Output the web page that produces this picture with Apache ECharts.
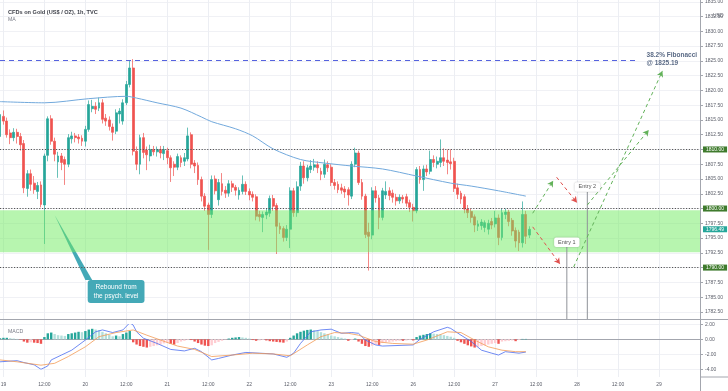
<!DOCTYPE html>
<html><head><meta charset="utf-8">
<script src="https://cdn.jsdelivr.net/npm/echarts@6/dist/echarts.min.js"></script>
<style>html,body{margin:0;padding:0;background:#fff}#c{width:728px;height:391px}</style>
</head><body><div id="c"></div>
<script>
// ---------- data ----------
const dayLabels = ['19','20','21','22','23','26','27','28','29'];
const slotCount = 206;           // hourly slots on the time axis
const opens = [
1812.2,1815.6,1814.8,1812.8,1812.0,1812.9,1812.2,1811.0,1803.4,1805.9,
1804.3,1802.9,1804.0,1800.6,1809.0,1815.2,1811.4,1807.9,1808.9,1808.3,
1807.5,1811.8,1812.3,1812.1,1811.9,1811.4,1813.4,1816.9,1817.3,1817.0,
1817.9,1815.3,1815.0,1813.8,1813.1,1816.0,1814.8,1817.9,1821.0,1823.8,
1809.7,1807.5,1812.0,1809.9,1808.9,1810.0,1809.6,1810.0,1809.3,1809.8,
1808.6,1807.5,1807.0,1808.6,1808.0,1808.4,1812.5,1807.7,1807.3,1804.9,
1802.1,1800.6,1799.0,1805.0,1801.5,1804.2,1803.1,1802.6,1804.2,1803.6,
1802.3,1802.9,1804.1,1802.9,1802.4,1802.0,1799.0,1798.5,1798.9,1799.2,
1801.7,1800.5,1797.0,1796.6,1795.1,1796.5,1803.0,1799.3,1803.8,1807.2,
1805.2,1806.6,1807.0,1807.4,1806.3,1805.8,1807.4,1807.0,1804.4,1804.1,
1803.5,1803.3,1803.2,1802.1,1807.5,1809.4,1804.4,1802.1,1796.0,1795.5,
1803.0,1801.8,1798.5,1802.3,1803.0,1802.6,1801.9,1801.3,1801.9,1802.0,
1801.0,1800.2,1799.6,1806.6,1804.9,1806.7,1806.3,1808.3,1807.5,1807.8,
1808.6,1808.2,1807.9,1808.0,1803.5,1802.6,1802.0,1799.9,1799.5,1798.6,
1797.0,1797.1,1796.8,1796.5,1797.8,1797.4,1798.4,1795.1,1799.0,1799.4,
1798.0,1796.3,1796.0,1794.2,1799.0,1795.5];
const closes = [
1815.9,1814.8,1812.5,1812.0,1812.9,1812.2,1810.8,1803.5,1805.9,1804.1,
1803.2,1803.9,1800.7,1808.9,1815.2,1811.4,1809.2,1808.9,1807.8,1807.5,
1812.0,1812.3,1812.0,1811.8,1811.4,1813.4,1817.6,1817.3,1816.8,1817.9,
1815.1,1814.8,1813.9,1812.9,1816.2,1816.5,1817.9,1821.0,1823.8,1809.7,
1807.5,1812.0,1809.5,1809.1,1810.0,1809.6,1810.0,1809.4,1810.0,1808.6,
1806.9,1807.0,1808.8,1807.8,1808.6,1812.3,1807.5,1807.2,1804.9,1802.1,
1800.4,1799.0,1804.9,1803.0,1804.4,1802.9,1802.6,1804.2,1803.6,1803.1,
1803.1,1804.1,1802.9,1802.3,1801.9,1798.7,1798.6,1799.0,1799.4,1801.7,
1800.4,1797.0,1796.5,1795.1,1796.5,1803.0,1799.3,1803.7,1807.2,1805.2,
1806.9,1807.2,1807.4,1806.9,1805.8,1807.5,1806.9,1804.4,1803.9,1803.2,
1803.1,1802.8,1802.3,1807.5,1809.4,1804.4,1802.1,1795.6,1795.3,1803.0,
1801.8,1798.5,1803.0,1802.9,1802.2,1801.9,1801.3,1801.9,1801.6,1800.9,
1800.2,1799.6,1806.6,1804.9,1806.7,1806.2,1808.3,1807.8,1808.0,1808.6,
1808.0,1807.8,1807.6,1803.4,1802.4,1801.6,1799.9,1799.3,1798.5,1797.2,
1797.4,1797.7,1797.6,1797.5,1797.2,1798.4,1795.1,1799.3,1799.4,1797.8,
1796.2,1794.5,1794.2,1799.0,1795.3,1796.49];
const lows = [
1811.5,1814.2,1812.0,1810.9,1811.4,1811.0,1809.8,1802.6,1802.0,1803.0,
1802.5,1801.6,1800.2,1794.0,1808.0,1810.8,1808.0,1805.2,1806.5,1804.0,
1807.0,1811.0,1811.2,1811.0,1810.6,1810.5,1813.0,1816.3,1816.0,1816.5,
1814.4,1814.0,1813.2,1811.5,1812.6,1814.4,1814.2,1817.5,1820.5,1809.0,
1806.5,1805.8,1808.5,1806.5,1808.0,1809.0,1808.8,1808.5,1808.2,1807.5,
1804.5,1805.5,1806.5,1807.0,1807.2,1808.0,1806.8,1806.0,1804.0,1801.2,
1799.6,1793.0,1798.4,1802.4,1800.5,1802.2,1801.8,1802.0,1802.8,1802.2,
1801.5,1802.4,1802.3,1801.4,1801.2,1798.0,1797.8,1796.0,1798.2,1798.6,
1799.6,1792.3,1795.7,1794.4,1794.5,1793.3,1798.6,1798.6,1803.0,1804.2,
1804.6,1806.0,1806.4,1806.0,1804.8,1805.2,1806.2,1803.8,1803.2,1802.6,
1802.5,1801.8,1800.5,1801.6,1807.0,1804.0,1801.5,1795.0,1789.5,1794.8,
1801.0,1796.5,1798.0,1801.6,1801.4,1801.0,1800.5,1800.8,1800.9,1800.3,
1799.4,1797.8,1799.2,1804.2,1803.0,1805.5,1805.8,1807.0,1806.8,1807.0,
1807.2,1805.8,1806.6,1802.8,1801.6,1800.8,1799.2,1798.4,1797.6,1796.0,
1796.2,1796.4,1796.0,1795.6,1796.5,1796.8,1793.8,1794.6,1798.2,1797.0,
1795.4,1793.4,1792.8,1793.4,1794.0,1795.0];
const highs = [
1816.8,1816.6,1815.4,1813.4,1813.6,1813.5,1812.8,1811.6,1806.5,1806.6,
1805.5,1804.5,1804.6,1809.3,1815.6,1815.8,1812.0,1809.6,1809.4,1808.8,
1812.6,1813.0,1812.8,1812.6,1812.4,1814.0,1818.3,1818.4,1818.0,1818.8,
1818.5,1816.0,1815.6,1814.4,1816.8,1817.0,1818.5,1821.6,1825.0,1825.3,
1810.5,1812.5,1812.8,1810.5,1810.8,1810.6,1810.5,1810.6,1810.6,1810.3,
1809.0,1808.0,1809.3,1809.0,1809.4,1813.7,1812.9,1808.2,1807.8,1805.4,
1802.6,1801.0,1805.6,1805.6,1805.0,1806.0,1803.8,1804.8,1804.7,1804.0,
1803.6,1805.6,1804.6,1803.4,1802.9,1802.4,1799.6,1799.5,1800.0,1802.2,
1802.3,1800.9,1797.6,1797.0,1797.2,1803.6,1803.5,1804.6,1807.9,1808.0,
1807.4,1808.2,1808.4,1808.0,1806.9,1808.3,1808.0,1807.5,1805.0,1804.6,
1804.2,1803.8,1803.6,1808.0,1810.3,1809.8,1805.0,1802.5,1797.6,1803.6,
1803.8,1802.3,1803.5,1804.6,1803.6,1803.2,1802.5,1802.4,1802.3,1802.5,
1801.5,1800.8,1807.0,1807.2,1807.3,1807.4,1809.8,1809.0,1808.8,1811.7,
1810.2,1810.0,1810.0,1808.6,1804.2,1803.0,1802.4,1800.6,1800.0,1799.0,
1798.0,1798.2,1798.0,1798.1,1798.4,1799.6,1799.0,1800.0,1800.0,1799.8,
1798.4,1796.8,1796.4,1801.2,1799.6,1797.0];
// moving average (slot, price)
const maPoints = [[0,1818.1],[13,1817.9],[26,1818.6],[37,1819.0],[40,1818.7],[46,1817.9],[53,1817.0],
[59,1815.5],[62,1814.7],[69,1813.5],[74,1812.3],[80,1810.1],[88,1808.3],[95,1807.7],[103,1807.2],
[112,1806.7],[122,1805.5],[132,1804.3],[138,1803.8],[146,1803.0],[154,1802.1]];
// MACD pane
const macdLine = [[0,-3.0],[5,-2.85],[7,-3.1],[10,-3.4],[12,-4.0],[14,-3.55],[15,-2.75],[18,-2.1],[21,-1.45],
[25,-0.1],[28,1.0],[30,1.25],[33,0.9],[36,1.25],[38,2.2],[39,1.9],[40,1.0],[42,0.15],[46,-0.55],[50,-1.35],
[54,-1.55],[57,-1.2],[59,-1.65],[62,-2.75],[64,-2.55],[68,-2.1],[72,-1.75],[76,-1.85],[80,-1.95],[84,-2.4],
[86,-1.85],[88,-0.55],[91,1.0],[94,1.25],[97,1.35],[100,0.8],[103,0.9],[105,0.8],[107,-0.1],[110,-0.75],
[112,-0.9],[121,-0.75],[123,0.0],[127,1.0],[131,1.6],[132,1.45],[135,0.55],[138,-0.3],[141,-1.45],[144,-1.85],
[146,-2.1],[148,-1.65],[152,-1.85],[154,-1.7]];
const signalLine = [[0,-2.75],[5,-3.0],[12,-3.45],[16,-3.2],[20,-2.3],[25,-1.0],[29,0.35],[34,0.9],[39,1.25],
[43,0.55],[47,-0.1],[52,-0.9],[57,-1.35],[62,-2.3],[68,-2.1],[74,-1.85],[80,-1.95],[85,-2.2],[90,-0.75],
[94,0.35],[98,0.9],[102,0.8],[105,0.55],[110,-0.3],[115,-0.55],[121,-0.65],[125,-0.1],[131,1.0],[135,0.9],
[139,-0.1],[143,-1.0],[147,-1.45],[151,-1.65],[154,-1.65]];
const macdHist = [
0.15,0.2,0.2,0.15,0.1,0.05,-0.05,
-0.3,-0.45,-0.4,-0.45,-0.5,-0.6,
0.3,0.8,0.9,0.7,0.55,0.5,0.45,
0.7,0.8,0.9,1.0,0.95,1.1,1.3,1.4,1.3,1.2,
1.0,0.8,0.6,0.4,0.5,0.4,0.7,0.9,1.1,
-0.4,-0.7,-0.9,-1.0,-1.1,
-1.0,-0.9,-0.8,-0.7,-0.55,-0.45,
-0.6,-0.7,-0.5,-0.3,-0.2,-0.1,-0.1,
-0.3,-0.5,-0.7,-0.85,-0.9,
-0.8,-0.5,-0.35,-0.2,-0.05,0.1,0.2,0.25,0.3,0.25,0.2,0.1,
-0.1,-0.2,-0.15,-0.1,-0.15,-0.25,-0.3,-0.35,-0.4,-0.45,-0.3,
0.2,0.5,0.8,1.0,1.15,1.25,1.3,1.2,1.1,0.95,0.8,0.65,0.5,0.4,0.3,0.2,0.1,
-0.2,-0.1,0.1,-0.3,-0.6,-0.9,-1.0,-0.85,-0.7,-0.75,-0.5,-0.4,-0.35,-0.3,-0.25,-0.2,-0.2,-0.15,-0.1,-0.15,
0.3,0.5,0.6,0.7,0.8,0.75,0.7,0.65,0.55,0.45,0.35,0.2,
-0.2,-0.4,-0.6,-0.8,-0.95,-1.1,-1.0,-0.9,-0.8,-0.7,-0.6,-0.5,-0.6,-0.3,-0.25,-0.2,-0.15,-0.25,-0.1,
0.05,0.05];
// levels & annotations
const levelPrices = [1810, 1800, 1790];
const lastPrice = 1796.49;
const fibPrice = 1825.19;
const fibSpan = [0, 187];
const fibText = ['38.2% Fibonacci', '@ 1825.19'];
const zoneRange = [1792.6, 1799.7];
const redArrows = [[[156,1796.9],[164,1790.6]], [[163,1805.3],[169,1801.0]]];
const greenArrows = [[[156,1799.2],[162,1804.7]], [[168,1790.1],[194,1823.3]], [[172,1800.6],[190,1813.3]]];
const entryLines = [[166,1793.5],[172,1802.8]];
const entryLabels = [['Entry 1',166,1794.3],['Entry 2',172,1803.65]];
const reboundLabel = ['Rebound from\nthe psych. level', 34, 1785.96];
const reboundArrow = [[16,1798.9],[25,1787.9],[27,1787.9]];

// ---------- build ----------
const cats = [];
for (let s = 0; s < slotCount; s++) {
  const h = s - 1;
  let lab = '';
  if (h >= 0) {
    const d = Math.floor(h / 24), hr = h % 24;
    lab = hr === 0 ? dayLabels[d] : (hr === 12 ? '12:00' : '');
  }
  cats.push(lab + '|' + s);
}
const tickShown = (idx) => (idx - 1) % 12 === 0 && idx >= 1 && idx < 205;
const candleData = opens.map((o, i) => [o, closes[i], lows[i], highs[i]]);
const histData = macdHist.map((v, i) => {
  const prev = i > 0 ? macdHist[i - 1] : 0;
  const c = v >= 0 ? (v >= prev ? '#26a69a' : '#b2dfdb') : (v <= prev ? '#ef5350' : '#ffcdd2');
  return {value: v, itemStyle: {color: c}};
});
const axisLabelColor = '#5d606b';
const FONT = 'Liberation Sans';

const levelLines = levelPrices.map(p => ({
  yAxis: p,
  lineStyle: {color: '#555', type: [1.2, 1.6], width: 1},
  label: {show: true, position: 'end', distance: 3, formatter: p.toFixed(2), color: '#fff',
    backgroundColor: '#3f7b2d', padding: [1, 3, 0, 3], fontSize: 5, fontFamily: FONT}
}));
const lastLine = {
  yAxis: lastPrice,
  lineStyle: {color: 'rgba(0,0,0,0)', width: 1},
  label: {show: true, position: 'end', distance: 3, formatter: lastPrice.toFixed(2), color: '#fff',
    backgroundColor: '#26a69a', padding: [1, 3, 0, 3], fontSize: 5, fontFamily: FONT}
};
const annoLines = [];
redArrows.forEach(a => annoLines.push([
  {coord: a[0], symbol: 'none', lineStyle: {color: '#e0514e', type: [3.5, 3], width: 1}, label: {show: false}},
  {coord: a[1], symbol: 'arrow', symbolSize: [5, 6]}]));
greenArrows.forEach(a => annoLines.push([
  {coord: a[0], symbol: 'none', lineStyle: {color: '#63b25a', type: [3.5, 3], width: 1}, label: {show: false}},
  {coord: a[1], symbol: 'arrow', symbolSize: [5, 6]}]));

const chart = echarts.init(document.getElementById('c'), null, {renderer: 'canvas'});
chart.setOption({
  animation: false,
  backgroundColor: '#ffffff',
  textStyle: {fontFamily: FONT},
  title: [
    {text: 'CFDs on Gold (US$ / OZ), 1h, TVC', left: 3, top: 4, textStyle: {fontSize: 5.6, fontWeight: 'bold', color: '#3c3f48', fontFamily: FONT}},
    {text: 'MA', left: 3, top: 12, textStyle: {fontSize: 5.2, fontWeight: 'normal', color: '#787b86', fontFamily: FONT}},
    {text: 'MACD', left: 3, top: 324, textStyle: {fontSize: 5.2, fontWeight: 'normal', color: '#787b86', fontFamily: FONT}},
    {text: 'USD', left: 708, top: 8, textStyle: {fontSize: 5, fontWeight: 'normal', color: axisLabelColor, fontFamily: FONT}}
  ],
  grid: [
    {left: 0, right: 28, top: 1.8, height: 310.1, outerBoundsMode: 'none', containLabel: false},
    {left: 0, right: 28, top: 324.3, height: 45, outerBoundsMode: 'none', containLabel: false},
    {left: 0, right: 28, top: 0, height: 377, outerBoundsMode: 'none', containLabel: false}
  ],
  xAxis: [
    {type: 'category', gridIndex: 0, data: cats, boundaryGap: false,
     axisLine: {show: false}, axisTick: {show: false}, axisLabel: {show: false}, splitLine: {show: false}},
    {type: 'category', gridIndex: 1, data: cats, boundaryGap: false, offset: 7.7,
     axisLine: {show: true, lineStyle: {color: '#a3a6ae', width: 1}}, axisTick: {show: false},
     axisLabel: {show: true, interval: tickShown, formatter: v => v.split('|')[0], fontSize: 5, color: axisLabelColor, margin: 5, fontFamily: FONT},
     splitLine: {show: false}},
    {type: 'category', gridIndex: 2, data: cats, boundaryGap: false,
     axisLine: {show: false}, axisTick: {show: false}, axisLabel: {show: false},
     splitLine: {show: true, interval: tickShown, lineStyle: {color: '#eceef3', width: 1}}}
  ],
  yAxis: [
    {type: 'value', gridIndex: 0, position: 'right', min: 1782.5, max: 1835, interval: 2.5,
     axisLine: {show: false}, axisTick: {show: true, length: 3, lineStyle: {color: '#a3a6ae'}},
     axisLabel: {show: true, fontSize: 5, color: axisLabelColor, margin: 5, formatter: v => v.toFixed(2), fontFamily: FONT},
     splitLine: {show: true, lineStyle: {color: '#f0f1f5', width: 1}}},
    {type: 'value', gridIndex: 1, position: 'right', min: -4, max: 2, interval: 2,
     axisLine: {show: false}, axisTick: {show: true, length: 3, lineStyle: {color: '#a3a6ae'}},
     axisLabel: {show: true, fontSize: 5, color: axisLabelColor, margin: 5, formatter: v => v.toFixed(2), fontFamily: FONT},
     splitLine: {show: true, lineStyle: {color: '#f0f1f5', width: 1}}},
    {type: 'value', gridIndex: 2, show: false}
  ],
  series: [
    {
      name: 'Reboundarrow', type: 'custom', xAxisIndex: 0, yAxisIndex: 0, z: 2,
      data: [reboundArrow[0]],
      renderItem: (params, api) => ({
        type: 'polygon',
        shape: {points: reboundArrow.map(p => api.coord(p))},
        style: {fill: '#44a9b7'}
      })
    },
    {
      name: 'Gold', type: 'candlestick', xAxisIndex: 0, yAxisIndex: 0, data: candleData, barWidth: 2.4, z: 2,
      itemStyle: {color: '#26a69a', color0: '#ef5350', borderColor: '#26a69a', borderColor0: '#ef5350', borderWidth: 0.7},
      markArea: {
        silent: true, z: 3,
        itemStyle: {color: 'rgba(112,236,96,0.5)'},
        data: [[{yAxis: zoneRange[1]}, {yAxis: zoneRange[0]}]]
      },
      markLine: {
        silent: true, symbol: ['none', 'none'], animation: false,
        data: levelLines.concat([lastLine])
      },
      markPoint: {
        silent: true, animation: false,
        data: [
          {coord: [reboundLabel[1], reboundLabel[2]], symbol: 'rect', symbolSize: 0,
           label: {show: true, position: 'inside', formatter: reboundLabel[0], color: '#ffffff', fontSize: 6.5, lineHeight: 8.5,
             backgroundColor: '#44a9b7', padding: [3, 6, 3, 6], borderRadius: 3, align: 'center', fontFamily: FONT}}
        ].concat(entryLabels.map(e => ({
          coord: [e[1], e[2]], symbol: 'rect', symbolSize: 0,
          label: {show: true, position: 'inside', formatter: e[0], color: '#555', fontSize: 5.5,
            backgroundColor: '#ffffff', padding: [2, 4, 1.5, 4], borderRadius: 2,
            shadowBlur: 2, shadowColor: 'rgba(0,0,0,0.25)', fontFamily: FONT}
        })))
      }
    },
    {
      name: 'Entries', type: 'custom', xAxisIndex: 0, yAxisIndex: 0, z: 4, clip: false,
      data: entryLines,
      renderItem: (params, api) => {
        const top = api.coord([api.value(0), api.value(1)]);
        const bottom = params.coordSys.y + params.coordSys.height + 7.3;
        return {type: 'line', shape: {x1: top[0], y1: top[1], x2: top[0], y2: bottom},
          style: {stroke: '#8f9299', lineWidth: 1}};
      }
    },
    {
      name: 'Fibonacci', type: 'custom', xAxisIndex: 0, yAxisIndex: 0, z: 4, clip: false,
      data: [[fibSpan[0], fibPrice, fibSpan[1]]],
      renderItem: (params, api) => {
        const a = api.coord([api.value(0), api.value(1)]);
        const b = api.coord([api.value(2), api.value(1)]);
        const y = Math.round(a[1]) + 0.5;
        return {type: 'group', children: [
          {type: 'line', shape: {x1: a[0], y1: y, x2: b[0], y2: y},
           style: {stroke: '#5663df', lineWidth: 1, lineDash: [5, 4]}},
          {type: 'text', x: b[0] + 8, y: y - 9,
           style: {text: fibText.join('\n'), fill: '#5b6b86', font: 'bold 6.5px "Liberation Sans"', lineHeight: 8, align: 'left', verticalAlign: 'top'}}
        ]};
      }
    },
    {
      name: 'MA', type: 'line', xAxisIndex: 0, yAxisIndex: 0, data: maPoints, showSymbol: false, smooth: 0.3,
      lineStyle: {color: '#72a9dc', width: 1}, z: 3,
      markLine: {silent: true, animation: false, symbol: ['none', 'arrow'], data: annoLines}
    },
    {
      name: 'Hist', type: 'bar', xAxisIndex: 1, yAxisIndex: 1, data: histData, barWidth: 2.4
    },
    {
      name: 'MACD', type: 'line', xAxisIndex: 1, yAxisIndex: 1, data: macdLine, showSymbol: false,
      lineStyle: {color: '#4a6cf0', width: 0.8}, z: 3
    },
    {
      name: 'Signal', type: 'line', xAxisIndex: 1, yAxisIndex: 1, data: signalLine, showSymbol: false,
      lineStyle: {color: '#f39a55', width: 0.8}, z: 3
    }
  ],
  graphic: [
    {type: 'line', shape: {x1: 0, y1: 319.5, x2: 728, y2: 319.5}, style: {stroke: '#a3a6ae', lineWidth: 1}, z: 10},
    {type: 'line', shape: {x1: 700.5, y1: 0, x2: 700.5, y2: 391}, style: {stroke: '#a3a6ae', lineWidth: 1}, z: 10},
    {type: 'line', shape: {x1: 700, y1: 377, x2: 728, y2: 377}, style: {stroke: '#a3a6ae', lineWidth: 1}, z: 10}
  ]
});
</script>
</body></html>
